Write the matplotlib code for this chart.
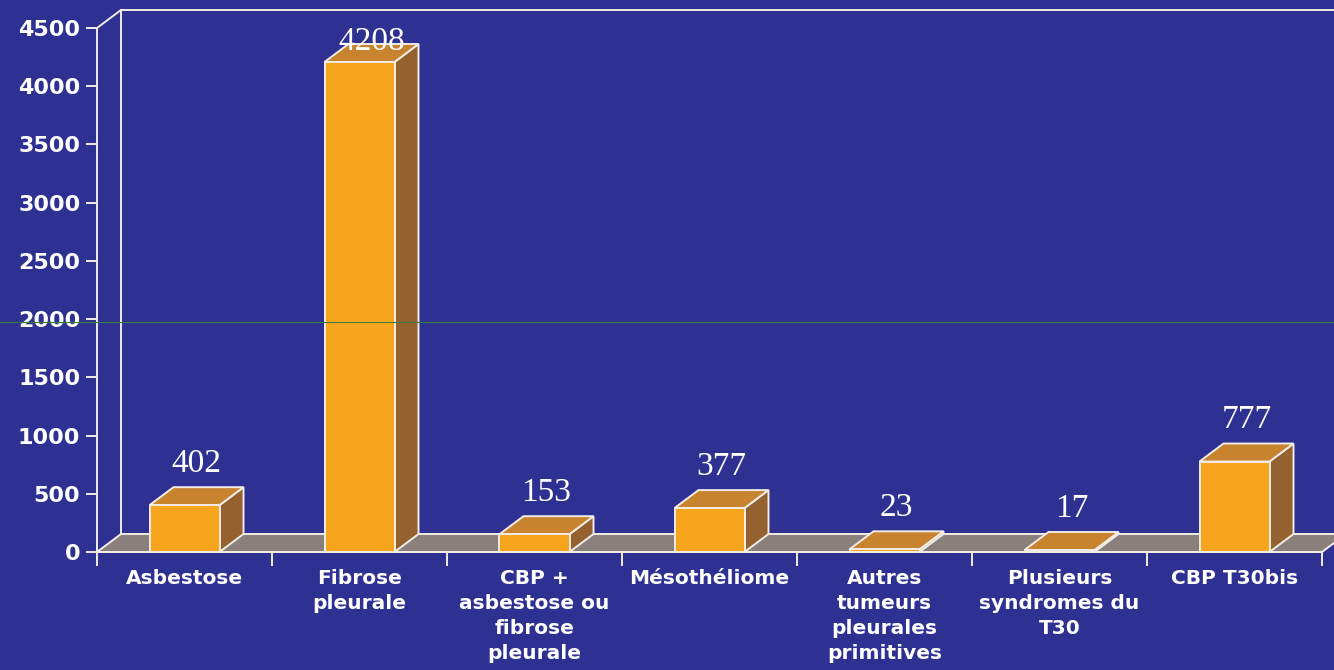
import matplotlib
matplotlib.use("Agg")
import matplotlib.pyplot as plt
from matplotlib.patches import Polygon
from matplotlib.lines import Line2D

# data
categories = ["Asbestose", "Fibrose\npleurale", "CBP +\nasbestose ou\nfibrose\npleurale",
              "Mésothéliome", "Autres\ntumeurs\npleurales\nprimitives",
              "Plusieurs\nsyndromes du\nT30", "CBP T30bis"]
values = [402, 4208, 153, 377, 23, 17, 777]
yticks = [0, 500, 1000, 1500, 2000, 2500, 3000, 3500, 4000, 4500]

bg = "#2e3192"
front_c = "#f7a51c"
top_c = "#c7832e"
side_c = "#94612f"
floor_c = "#8a807b"
edge_c = "#f2ece6"

W, H = 1334, 670
fig = plt.figure(figsize=(W / 100, H / 100), dpi=100, facecolor=bg)

# axes: x in category units (175 px each), y in value units
px0, px1 = 97, 1334
py0, py1 = 552, 10
cat_px = 175.0
val_px = (552 - 28) / 4500.0
ax = fig.add_axes([px0 / W, (H - py0) / H, (px1 - px0) / W, (py0 - py1) / H])
ax.set_facecolor(bg)
n = len(values)
ax.set_xlim(0, (px1 - px0) / cat_px)
ax.set_ylim(0, (py0 - py1) / val_px)
for s in ax.spines.values():
    s.set_visible(False)

dx = 24 / cat_px
dy = 18 / val_px
bw = 0.4
lw = 1.4

# walls / frame
xr = (px1 - px0) / cat_px + 0.1
ytop = (py0 - py1) / val_px
ax.plot([dx, dx, xr], [dy, ytop, ytop], color=edge_c, lw=lw, clip_on=False, zorder=1)
ax.plot([0, dx], [4500, ytop], color=edge_c, lw=lw, clip_on=False, zorder=1)

# floor
floor = Polygon([(0, 0), (n, 0), (n + dx, dy), (dx, dy)], closed=True,
                facecolor=floor_c, edgecolor=edge_c, lw=lw, clip_on=False, zorder=2)
ax.add_patch(floor)

# bars
for i, v in enumerate(values):
    x0 = i + 0.5 - bw / 2
    x1 = i + 0.5 + bw / 2
    side = Polygon([(x1, 0), (x1 + dx, dy), (x1 + dx, v + dy), (x1, v)],
                   facecolor=side_c, edgecolor=edge_c, lw=lw, zorder=3, clip_on=False)
    top = Polygon([(x0, v), (x1, v), (x1 + dx, v + dy), (x0 + dx, v + dy)],
                  facecolor=top_c, edgecolor=edge_c, lw=lw, zorder=3, clip_on=False)
    front = Polygon([(x0, 0), (x1, 0), (x1, v), (x0, v)],
                    facecolor=front_c, edgecolor=edge_c, lw=lw, zorder=4, clip_on=False)
    ax.add_patch(side)
    ax.add_patch(top)
    ax.add_patch(front)
    ax.text(i + 0.5 + dx / 2, min(v + dy + 200, 4380), str(v), ha="center", va="center",
            color="white", fontsize=24, family="Liberation Serif", zorder=6)

# front axes
ax.plot([0, 0], [0, 4500], color=edge_c, lw=lw, clip_on=False, zorder=5)
ax.plot([0, n], [0, 0], color=edge_c, lw=lw, clip_on=False, zorder=5)

ax.set_yticks(yticks)
ax.set_yticklabels([str(t) for t in yticks])
ax.set_xticks(range(n + 1))
ax.set_xticklabels([])
ax.tick_params(axis="y", colors=edge_c, length=8, width=lw, labelsize=16, pad=4)
ax.tick_params(axis="x", colors=edge_c, length=10, width=lw, direction="out")
for lab in ax.get_yticklabels():
    lab.set_color("white")
    lab.set_fontweight("bold")

for i, c in enumerate(categories):
    ax.text(i + 0.5, -150, c, ha="center", va="top", color="white", fontsize=14.5,
            fontweight="bold", linespacing=1.4, clip_on=False)

# thin green line across the picture
fig.add_artist(Line2D([0, 1], [(H - 322) / H] * 2, color="#3c7d3c", lw=0.8))

fig.savefig("out.png", dpi=100, facecolor=bg)
